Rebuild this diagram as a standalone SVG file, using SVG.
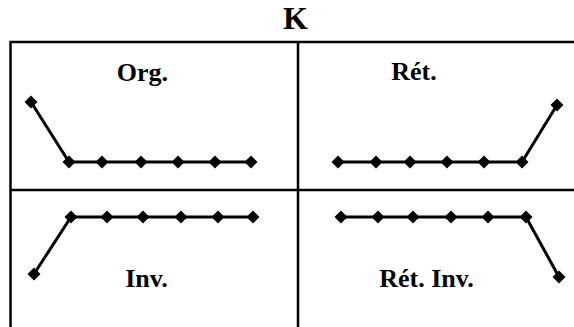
<svg xmlns="http://www.w3.org/2000/svg" xmlns:xlink="http://www.w3.org/1999/xlink" width="574" height="327" viewBox="0 0 574 327">
<style>
.frame{stroke:#000;stroke-width:2.5;fill:none}
.ln{stroke:#000;stroke-width:3;fill:none}
.lbl{font-family:"Liberation Serif","Times New Roman",serif;font-weight:bold;font-size:26px;fill:#000;text-anchor:middle}
.title{font-size:32px}
</style>
<defs>
<path id="d" d="M0,-6.5 L6.5,0 L0,6.5 L-6.5,0 Z" fill="#000"/>
</defs>
<rect width="574" height="327" fill="#fff"/>
<g id="frame">
<path class="frame" d="M10.5,330 V42 H576 M298,42 V330 M10.5,190 H576"/>
</g>
<text id="title" class="lbl title" x="295.5" y="29">K</text>
<g id="connectors">
<polyline class="ln" points="31,102 69,162 251,162"/>
<polyline class="ln" points="338,162 522,162 557,105"/>
<polyline class="ln" points="34,274 71,217 253,217"/>
<polyline class="ln" points="341,217 526,217 559,277"/>
</g>
<g id="org">
<text class="lbl" x="142.5" y="81">Org.</text>
<use xlink:href="#d" x="31" y="102"/><use xlink:href="#d" x="69" y="162"/><use xlink:href="#d" x="102" y="162"/><use xlink:href="#d" x="141" y="162"/><use xlink:href="#d" x="178" y="162"/><use xlink:href="#d" x="215" y="162"/><use xlink:href="#d" x="251" y="162"/>
</g>
<g id="ret">
<text class="lbl" x="414" y="80">Rét.</text>
<use xlink:href="#d" x="338" y="162"/><use xlink:href="#d" x="376" y="162"/><use xlink:href="#d" x="410" y="162"/><use xlink:href="#d" x="447" y="162"/><use xlink:href="#d" x="484" y="162"/><use xlink:href="#d" x="522" y="162"/><use xlink:href="#d" x="557" y="105"/>
</g>
<g id="inv">
<text class="lbl" x="146.5" y="287">Inv.</text>
<use xlink:href="#d" x="34" y="274"/><use xlink:href="#d" x="71" y="217"/><use xlink:href="#d" x="107" y="217"/><use xlink:href="#d" x="143" y="217"/><use xlink:href="#d" x="181" y="217"/><use xlink:href="#d" x="218" y="217"/><use xlink:href="#d" x="253" y="217"/>
</g>
<g id="retinv">
<text class="lbl" x="426.5" y="287">Rét. Inv.</text>
<use xlink:href="#d" x="341" y="217"/><use xlink:href="#d" x="378" y="217"/><use xlink:href="#d" x="413" y="217"/><use xlink:href="#d" x="451" y="217"/><use xlink:href="#d" x="488" y="217"/><use xlink:href="#d" x="526" y="217"/><use xlink:href="#d" x="559" y="277"/>
</g>
</svg>
